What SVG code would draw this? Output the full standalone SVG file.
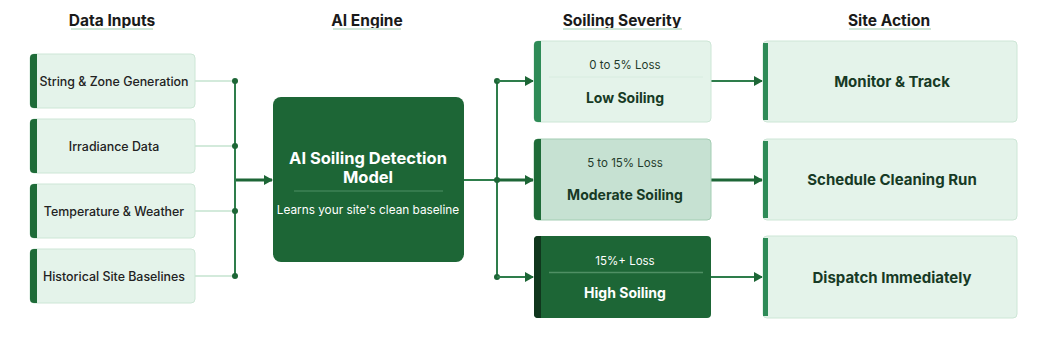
<svg xmlns="http://www.w3.org/2000/svg" width="1048" height="360" viewBox="0 0 1048 360">
<defs>
<style>
text{font-family:Inter,"Noto Sans",sans-serif;text-anchor:middle;dominant-baseline:central}
.hdr{font-size:15.5px;font-weight:700;fill:#1a1a1a}
.ul{stroke:#cfe6d8;stroke-width:2}
.in{fill:#e4f3ea;stroke:#cde6d6;stroke-width:1}
.inbar{fill:#1e6b38}
.intx{font-size:12.4px;fill:#222;font-weight:500}
.thin{stroke:#c5e3cf;stroke-width:1.5;fill:none}
.bus{stroke:#2e7d4b;stroke-width:2;fill:none}
.main{stroke:#1d6636;stroke-width:3;fill:none}
.arr{stroke:#2e7d4b;stroke-width:2;fill:none}
.dot{fill:#1d6636}
.sub{font-size:11.5px;fill:#1f3a2a}
.sev{font-size:14px;font-weight:700;fill:#173a25}
.act{font-size:15px;font-weight:700;fill:#173a25}
</style>
<marker id="ah" markerWidth="10" markerHeight="10" refX="8" refY="5" orient="auto" markerUnits="userSpaceOnUse"><path d="M0,0 L9,5 L0,10 Z" fill="#1d6636"/></marker>
</defs>
<rect width="1048" height="360" fill="#fff"/>

<g id="headers">
<text class="hdr" x="112" y="20">Data Inputs</text>
<line class="ul" x1="71" y1="29" x2="153" y2="29"/>
<text class="hdr" x="367" y="20">AI Engine</text>
<line class="ul" x1="333" y1="29" x2="401" y2="29"/>
<text class="hdr" x="622" y="20">Soiling Severity</text>
<line class="ul" x1="563" y1="29" x2="682" y2="29"/>
<text class="hdr" x="889" y="20">Site Action</text>
<line class="ul" x1="849" y1="29" x2="931" y2="29"/>
</g>

<g id="connectors">
<line class="thin" x1="195" y1="81" x2="235" y2="81"/>
<line class="thin" x1="195" y1="146" x2="235" y2="146"/>
<line class="thin" x1="195" y1="211" x2="235" y2="211"/>
<line class="thin" x1="195" y1="276" x2="235" y2="276"/>
<line class="bus" x1="235" y1="81" x2="235" y2="276"/>
<circle class="dot" cx="235" cy="81" r="3"/>
<circle class="dot" cx="235" cy="146" r="3"/>
<circle class="dot" cx="235" cy="211" r="3"/>
<circle class="dot" cx="235" cy="276" r="3"/>
<line class="main" x1="236" y1="180" x2="272" y2="180" marker-end="url(#ah)"/>
<line class="bus" x1="464" y1="180" x2="497" y2="180"/>
<line class="bus" x1="497" y1="81" x2="497" y2="277"/>
<circle class="dot" cx="497" cy="81" r="3"/>
<circle class="dot" cx="497" cy="180" r="3"/>
<circle class="dot" cx="497" cy="277" r="3"/>
<line class="arr" x1="497" y1="81" x2="533" y2="81" marker-end="url(#ah)"/>
<line class="main" x1="497" y1="180" x2="533" y2="180" marker-end="url(#ah)"/>
<line class="arr" x1="497" y1="277" x2="533" y2="277" marker-end="url(#ah)"/>
<line class="arr" x1="711" y1="81" x2="762" y2="81" marker-end="url(#ah)"/>
<line class="main" x1="711" y1="180" x2="762" y2="180" marker-end="url(#ah)"/>
<line class="arr" x1="711" y1="277" x2="762" y2="277" marker-end="url(#ah)"/>
</g>

<g id="in1">
<rect class="in" x="30" y="54" width="165" height="54" rx="4"/>
<path class="inbar" d="M34,54 H37 V108 H34 A4,4 0 0 1 30,104 V58 A4,4 0 0 1 34,54 Z"/>
<text class="intx" x="114" y="81">String &amp; Zone Generation</text>
</g>
<g id="in2">
<rect class="in" x="30" y="119" width="165" height="54" rx="4"/>
<path class="inbar" d="M34,119 H37 V173 H34 A4,4 0 0 1 30,169 V123 A4,4 0 0 1 34,119 Z"/>
<text class="intx" x="114" y="146">Irradiance Data</text>
</g>
<g id="in3">
<rect class="in" x="30" y="184" width="165" height="54" rx="4"/>
<path class="inbar" d="M34,184 H37 V238 H34 A4,4 0 0 1 30,234 V188 A4,4 0 0 1 34,184 Z"/>
<text class="intx" x="114" y="211">Temperature &amp; Weather</text>
</g>
<g id="in4">
<rect class="in" x="30" y="249" width="165" height="54" rx="4"/>
<path class="inbar" d="M34,249 H37 V303 H34 A4,4 0 0 1 30,299 V253 A4,4 0 0 1 34,249 Z"/>
<text class="intx" x="114" y="276">Historical Site Baselines</text>
</g>

<g id="engine">
<rect x="273" y="97" width="191" height="165" rx="8" fill="#1d6636"/>
<text x="368" y="158" font-size="16.5" font-weight="700" fill="#fff">AI Soiling Detection</text>
<text x="368" y="177" font-size="16.5" font-weight="700" fill="#fff">Model</text>
<line x1="294" y1="191" x2="443" y2="191" stroke="#4f8f64" stroke-width="1"/>
<text x="368" y="210" font-size="11.8" fill="#fff">Learns your site's clean baseline</text>
</g>

<g id="sev1">
<rect x="534" y="41" width="177" height="81" rx="4" fill="#e4f3ea" stroke="#cde6d6"/>
<path d="M538,41 H541 V122 H538 A4,4 0 0 1 534,118 V45 A4,4 0 0 1 538,41 Z" fill="#2e8b57"/>
<text class="sub" x="625" y="65">0 to 5% Loss</text>
<line x1="549" y1="77" x2="703" y2="77" stroke="#d8ece0" stroke-width="1"/>
<text class="sev" x="625" y="97">Low Soiling</text>
</g>
<g id="sev2">
<rect x="534" y="139" width="177" height="81" rx="4" fill="#c6e1d2" stroke="#a3cdb3"/>
<path d="M538,139 H541 V220 H538 A4,4 0 0 1 534,216 V143 A4,4 0 0 1 538,139 Z" fill="#1e6b38"/>
<text class="sub" x="625" y="163">5 to 15% Loss</text>
<text class="sev" x="625" y="194">Moderate Soiling</text>
</g>
<g id="sev3">
<rect x="534" y="236" width="177" height="82" rx="4" fill="#1d6636"/>
<path d="M538,236 H541 V318 H538 A4,4 0 0 1 534,314 V240 A4,4 0 0 1 538,236 Z" fill="#10361d"/>
<text class="sub" x="625" y="261" style="fill:#fff">15%+ Loss</text>
<line x1="549" y1="272.5" x2="703" y2="272.5" stroke="#4f8f64" stroke-width="1.5"/>
<text class="sev" x="625" y="292" style="fill:#fff">High Soiling</text>
</g>

<g id="act1">
<rect x="763" y="41" width="254" height="81" rx="4" fill="#e4f3ea" stroke="#cde6d6"/>
<rect x="763" y="43" width="5" height="77" fill="#2e8b57"/>
<text class="act" x="892" y="81">Monitor &amp; Track</text>
</g>
<g id="act2">
<rect x="763" y="139" width="254" height="81" rx="4" fill="#e4f3ea" stroke="#cde6d6"/>
<rect x="763" y="141" width="5" height="77" fill="#2e8b57"/>
<text class="act" x="892" y="179">Schedule Cleaning Run</text>
</g>
<g id="act3">
<rect x="763" y="236" width="254" height="82" rx="4" fill="#e4f3ea" stroke="#cde6d6"/>
<rect x="763" y="238" width="5" height="78" fill="#2e8b57"/>
<text class="act" x="892" y="277">Dispatch Immediately</text>
</g>
</svg>
